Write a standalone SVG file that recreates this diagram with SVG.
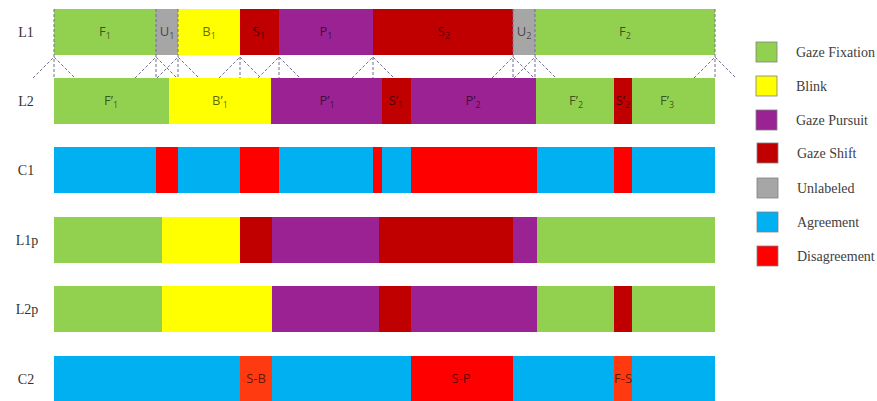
<svg xmlns="http://www.w3.org/2000/svg" width="877" height="401" viewBox="0 0 877 401">
<style>
.g{fill:#92D050}.y{fill:#FFFF00}.p{fill:#9A2293}.s{fill:#C00000}.u{fill:#A6A6A6}.a{fill:#00B0F0}.d{fill:#FF0000}.o{fill:#FF3A10}
.rl{font-family:"Liberation Serif",serif;font-size:14px;fill:#333;text-anchor:middle}
.lg{font-family:"Liberation Serif",serif;font-size:14px;fill:#404040}
.t{font-family:"Open Sans","Liberation Sans",sans-serif;font-size:13px;fill:#000;fill-opacity:0.62;text-anchor:middle}
.sub{font-size:9px}
.dl{stroke:#6E6E96;stroke-width:1;stroke-dasharray:3 2;fill:none}
.ls{stroke:#808080;stroke-width:0.8}
</style>
<rect width="877" height="401" fill="#fff"/>

<g id="row-labels">
<text class="rl" x="26" y="37">L1</text>
<text class="rl" x="26" y="106">L2</text>
<text class="rl" x="26" y="175">C1</text>
<text class="rl" x="27" y="245">L1p</text>
<text class="rl" x="27" y="314">L2p</text>
<text class="rl" x="26" y="384">C2</text>
</g>

<g id="L1">
<g id="F1"><rect class="g" x="54" y="9" width="102" height="46"/><text class="t" x="105" y="36">F<tspan class="sub" dy="3">1</tspan></text></g>
<g id="U1"><rect class="u" x="156" y="9" width="22" height="46"/><text class="t" x="167" y="36">U<tspan class="sub" dy="3">1</tspan></text></g>
<g id="B1"><rect class="y" x="178" y="9" width="62" height="46"/><text class="t" x="209" y="36">B<tspan class="sub" dy="3">1</tspan></text></g>
<g id="S1"><rect class="s" x="240" y="9" width="39" height="46"/><text class="t" x="259" y="36">S<tspan class="sub" dy="3">1</tspan></text></g>
<g id="P1"><rect class="p" x="279" y="9" width="94" height="46"/><text class="t" x="326" y="36">P<tspan class="sub" dy="3">1</tspan></text></g>
<g id="S2"><rect class="s" x="373" y="9" width="140" height="46"/><text class="t" x="444" y="36">S<tspan class="sub" dy="3">2</tspan></text></g>
<g id="U2"><rect class="u" x="513" y="9" width="22" height="46"/><text class="t" x="524" y="36">U<tspan class="sub" dy="3">2</tspan></text></g>
<g id="F2"><rect class="g" x="535" y="9" width="180" height="46"/><text class="t" x="625" y="36">F<tspan class="sub" dy="3">2</tspan></text></g>
</g>

<g id="L2">
<g id="F1p"><rect class="g" x="54" y="78" width="115" height="46"/><text class="t" x="111" y="105">F’<tspan class="sub" dy="3">1</tspan></text></g>
<g id="B1p"><rect class="y" x="169" y="78" width="102" height="46"/><text class="t" x="220" y="105">B’<tspan class="sub" dy="3">1</tspan></text></g>
<g id="P1p"><rect class="p" x="271" y="78" width="111" height="46"/><text class="t" x="327" y="105">P’<tspan class="sub" dy="3">1</tspan></text></g>
<g id="S1p"><rect class="s" x="382" y="78" width="29" height="46"/><text class="t" x="396" y="105">S’<tspan class="sub" dy="3">1</tspan></text></g>
<g id="P2p"><rect class="p" x="411" y="78" width="125" height="46"/><text class="t" x="473" y="105">P’<tspan class="sub" dy="3">2</tspan></text></g>
<g id="F2p"><rect class="g" x="536" y="78" width="78" height="46"/><text class="t" x="576" y="105">F’<tspan class="sub" dy="3">2</tspan></text></g>
<g id="S2p"><rect class="s" x="614" y="78" width="18" height="46"/><text class="t" x="623" y="105">S’<tspan class="sub" dy="3">2</tspan></text></g>
<g id="F3p"><rect class="g" x="632" y="78" width="83" height="46"/><text class="t" x="667" y="105">F’<tspan class="sub" dy="3">3</tspan></text></g>
</g>

<g id="C1">
<rect class="a" x="54" y="147" width="102" height="46"/>
<rect class="d" x="156" y="147" width="22" height="46"/>
<rect class="a" x="178" y="147" width="62" height="46"/>
<rect class="d" x="240" y="147" width="39" height="46"/>
<rect class="a" x="279" y="147" width="94" height="46"/>
<rect class="d" x="373" y="147" width="9" height="46"/>
<rect class="a" x="382" y="147" width="29" height="46"/>
<rect class="d" x="411" y="147" width="126" height="46"/>
<rect class="a" x="537" y="147" width="77" height="46"/>
<rect class="d" x="614" y="147" width="18" height="46"/>
<rect class="a" x="632" y="147" width="83" height="46"/>
</g>

<g id="L1p">
<rect class="g" x="54" y="217" width="108" height="46"/>
<rect class="y" x="162" y="217" width="78" height="46"/>
<rect class="s" x="240" y="217" width="32" height="46"/>
<rect class="p" x="272" y="217" width="107" height="46"/>
<rect class="s" x="379" y="217" width="134" height="46"/>
<rect class="p" x="513" y="217" width="24" height="46"/>
<rect class="g" x="537" y="217" width="178" height="46"/>
</g>

<g id="L2p">
<rect class="g" x="54" y="286" width="108" height="46"/>
<rect class="y" x="162" y="286" width="110" height="46"/>
<rect class="p" x="272" y="286" width="107" height="46"/>
<rect class="s" x="379" y="286" width="32" height="46"/>
<rect class="p" x="411" y="286" width="126" height="46"/>
<rect class="g" x="537" y="286" width="77" height="46"/>
<rect class="s" x="614" y="286" width="18" height="46"/>
<rect class="g" x="632" y="286" width="83" height="46"/>
</g>

<g id="C2">
<rect class="a" x="54" y="356" width="186" height="46"/>
<g id="SB"><rect class="o" x="240" y="356" width="32" height="46"/><text class="t" x="256" y="383">S-B</text></g>
<rect class="a" x="272" y="356" width="139" height="46"/>
<g id="SP"><rect class="d" x="411" y="356" width="102" height="46"/><text class="t" x="461" y="383">S-P</text></g>
<rect class="a" x="513" y="356" width="101" height="46"/>
<g id="FS"><rect class="o" x="614" y="356" width="18" height="46"/><text class="t" x="623" y="383">F-S</text></g>
<rect class="a" x="632" y="356" width="83" height="46"/>
</g>

<g id="connectors" class="dl">
<path d="M54 9V78M156 9V78M178 9V78M513 9V78M535 9V78M715 9V78M240 57V78M279 57V78M373 57V78"/>
<path d="M33 78L54 57L75 78M135 78L156 57L177 78M157 78L178 57L199 78M219 78L240 57L261 78M258 78L279 57L300 78M352 78L373 57L394 78M492 78L513 57L534 78M514 78L535 57L556 78M694 78L715 57L736 78"/>
</g>

<g id="legend">
<g id="lg-fix"><rect class="g ls" x="756" y="42" width="21" height="20"/><text class="lg" x="796" y="57">Gaze Fixation</text></g>
<g id="lg-blink"><rect class="y ls" x="756" y="76" width="21" height="20"/><text class="lg" x="796" y="91">Blink</text></g>
<g id="lg-pursuit"><rect class="p ls" x="756" y="110" width="21" height="20"/><text class="lg" x="796" y="125">Gaze Pursuit</text></g>
<g id="lg-shift"><rect class="s ls" x="757" y="143" width="21" height="20"/><text class="lg" x="797" y="158">Gaze Shift</text></g>
<g id="lg-unl"><rect class="u ls" x="757" y="178" width="21" height="20"/><text class="lg" x="797" y="193">Unlabeled</text></g>
<g id="lg-agr"><rect class="a ls" x="757" y="212" width="21" height="20"/><text class="lg" x="797" y="227">Agreement</text></g>
<g id="lg-dis"><rect class="d ls" x="757" y="246" width="21" height="20"/><text class="lg" x="797" y="261">Disagreement</text></g>
</g>
</svg>
